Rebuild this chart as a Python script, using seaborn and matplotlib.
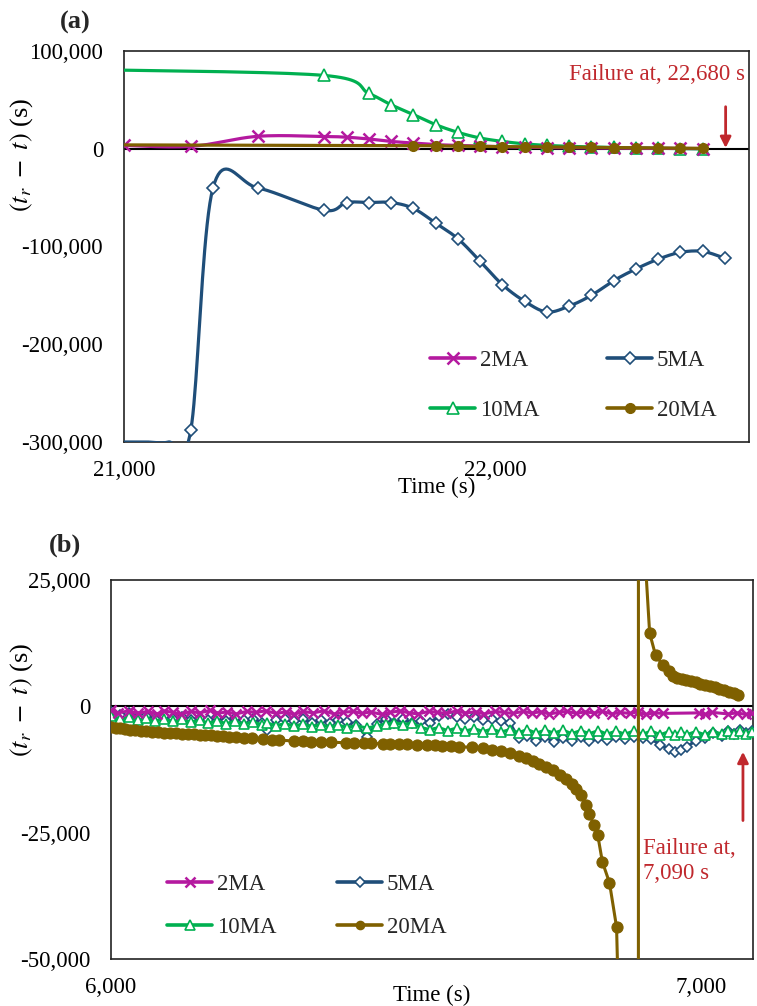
import numpy as np
import matplotlib
matplotlib.use("Agg")
import matplotlib.pyplot as plt
from matplotlib.lines import Line2D
from matplotlib.ticker import FuncFormatter
import seaborn as sns

# ---------------- panel (a): forecast near 22,680 s ----------------
a_t_2ma = [21000, 21180, 21360, 21540, 21600, 21660, 21720, 21780, 21840, 21900,
           21960, 22020, 22080, 22140, 22200, 22260, 22320, 22380, 22440, 22500, 22560]
a_v_2ma = [3400, 2400, 12700, 12500, 11800, 10000, 7500, 5800, 4200, 3400,
           2600, 2000, 1600, 1200, 1000, 800, 600, 500, 400, 300, 200]

a_t_5ma = [21000, 21060, 21120, 21180, 21240, 21360, 21540, 21600, 21660, 21720,
           21780, 21840, 21900, 21960, 22020, 22080, 22140, 22200, 22260, 22320,
           22380, 22440, 22500, 22560, 22620]
a_v_5ma = [-300000, -300000, -300000, -288000, -40000, -40000, -63000, -55000, -55000, -55000,
           -61000, -76000, -92000, -115000, -139000, -156000, -167000, -161000, -150000, -135000,
           -123000, -113000, -106000, -105000, -112000]

a_t_10ma = [20940, 21540, 21660, 21720, 21780, 21840, 21900, 21960, 22020, 22080,
            22140, 22200, 22260, 22320, 22380, 22440, 22500, 22560]
a_v_10ma = [80800, 75000, 56600, 45000, 35000, 24700, 16800, 11000, 7500, 5000,
            3400, 2500, 1800, 1300, 900, 500, 200, -200]

a_t_20ma = [20940, 21780, 21840, 21900, 21960, 22020, 22080, 22140, 22200, 22260,
            22320, 22380, 22440, 22500, 22560]
a_v_20ma = [4000, 3200, 2900, 2600, 2400, 2200, 2000, 1800, 1600, 1400,
            1200, 1000, 800, 600, 400]

# ---------------- panel (b): forecast near 7,090 s ----------------
b_t_2ma = [6000, 6012, 6030, 6045, 6062, 6078, 6090, 6105, 6118, 6135,
           6150, 6168, 6180, 6196, 6212, 6230, 6245, 6262, 6280, 6296,
           6310, 6325, 6342, 6360, 6378, 6392, 6410, 6425, 6440, 6458,
           6472, 6490, 6505, 6520, 6538, 6552, 6568, 6585, 6600, 6618,
           6632, 6650, 6665, 6680, 6698, 6712, 6728, 6742, 6758, 6772,
           6788, 6802, 6818, 6832, 6848, 6862, 6878, 6892, 6905, 6920,
           6934, 6995, 7005, 7018, 7045, 7060, 7075, 7086]
b_v_2ma = [-800, -1300, -900, -1400, -1000, -1500, -900, -1200, -1600, -1000,
           -1300, -800, -1400, -1100, -1500, -1000, -1200, -900, -1400, -1100,
           -1600, -1000, -1300, -900, -1500, -1200, -1000, -1400, -1100, -1600,
           -1200, -900, -1300, -1500, -1000, -1200, -1400, -900, -1300, -1100,
           -1500, -1000, -1200, -1400, -1000, -1300, -1100, -1500, -1200, -1000,
           -1400, -1100, -1300, -1000, -1500, -1200, -1400, -1100, -1600, -1300,
           -1400, -1300, -1600, -1200, -1500, -1300, -1600, -1400]

b_t = [6000, 6015, 6030, 6045, 6060, 6075, 6090, 6105, 6120, 6135,
       6150, 6165, 6180, 6195, 6210, 6225, 6240, 6255, 6264, 6280,
       6295, 6310, 6325, 6340, 6355, 6370, 6385, 6400, 6415, 6433,
       6450, 6465, 6480, 6495, 6510, 6525, 6540, 6555, 6570, 6585,
       6600, 6615, 6630, 6645, 6660, 6675, 6690, 6705, 6720, 6735,
       6750, 6765, 6780, 6795, 6810, 6825, 6840, 6855, 6870, 6885,
       6900, 6915, 6930, 6945, 6955, 6965, 6975, 6990, 7005, 7020,
       7035, 7045, 7055, 7065, 7075, 7086]
b_v_5ma = [-1200, -1800, -1400, -2200, -1900, -2500, -2000, -2600, -2200, -2800,
           -2300, -2700, -2200, -2900, -2400, -2800, -2500, -3200, -4600, -2800,
           -2500, -3000, -2600, -3200, -2700, -3300, -2800, -3100, -3600, -6000,
           -3400, -2600, -3200, -2500, -3300, -3000, -3200, -2000, -1600, -2100,
           -2500, -2200, -2800, -2600, -3000, -3200, -6300, -5900, -6800, -6100,
           -7000, -6200, -6800, -6000, -6900, -6200, -6700, -6100, -6500, -6000,
           -6300, -6500, -7600, -8500, -9000, -8600, -8000, -6800, -6200, -5200,
           -5800, -4800, -5500, -4700, -5300, -4900]
b_v_10ma = [-2000, -2600, -2200, -2800, -2300, -2900, -2500, -3000, -2600, -3100,
            -2800, -3300, -2900, -3400, -3000, -3500, -3100, -3600, -3300, -3800,
            -3400, -3900, -3500, -4000, -3600, -4100, -3700, -4200, -3800, -4300,
            -3900, -3500, -3200, -3600, -3300, -4200, -4600, -4200, -4800, -4300,
            -4900, -4400, -5000, -4500, -5100, -4600, -5200, -4600, -5300, -4700,
            -5300, -4700, -5400, -4800, -5400, -4800, -5500, -4900, -5500, -4900,
            -5500, -4900, -5600, -5000, -5600, -5000, -5600, -5000, -5600, -5000,
            -5500, -4900, -5500, -4900, -5400, -5000]

b_t_20ma = [6000, 6008, 6016, 6024, 6032, 6040, 6050, 6060, 6070, 6080,
            6090, 6100, 6110, 6120, 6130, 6140, 6150, 6160, 6170, 6180,
            6190, 6200, 6212, 6225, 6238, 6258, 6272, 6285, 6310, 6325,
            6338, 6355, 6372, 6398, 6412, 6428, 6440, 6460, 6472, 6488,
            6502, 6518, 6535, 6548, 6560, 6575, 6590, 6612, 6630, 6645,
            6660, 6675, 6690, 6702, 6714, 6725, 6736, 6748, 6760, 6770,
            6780, 6788, 6796, 6804, 6810, 6818, 6824, 6832, 6844, 6856,
            6866, 6892, 6894, 6903, 6912, 6922, 6935, 6944, 6951, 6958,
            6966, 6974, 6982, 6990, 6998, 7006, 7014, 7022, 7030, 7038,
            7046, 7054, 7062]
b_v_20ma = [-4000, -4200, -4300, -4500, -4600, -4700, -4800, -4900, -5000, -5100,
            -5200, -5300, -5350, -5400, -5500, -5550, -5600, -5700, -5750, -5850,
            -5900, -6000, -6100, -6200, -6300, -6500, -6600, -6700, -6850, -6950,
            -7000, -7050, -7100, -7200, -7250, -7300, -7350, -7400, -7450, -7500,
            -7550, -7600, -7700, -7750, -7800, -7900, -8000, -8100, -8300, -8600,
            -8900, -9300, -9800, -10300, -10900, -11500, -12000, -12600, -13500, -14400,
            -15300, -16300, -17600, -19500, -21400, -23500, -25400, -30800, -34900, -43700,
            -90000, -2000000, 2000000, 32000, 14500, 10100, 8100, 6900, 6100, 5700,
            5400, 5200, 5000, 4800, 4500, 4300, 4100, 3800, 3500, 3200,
            2900, 2600, 2300]

series_names = ["2MA", "5MA", "10MA", "20MA"]
failure_a = "Failure at, 22,680 s"
failure_b = "Failure at,\n7,090 s"

# ---------------- styling ----------------
sns.set_theme(style="white")
plt.rcParams["font.family"] = ["Liberation Serif", "DejaVu Serif"]
plt.rcParams["mathtext.fontset"] = "stix"
FS = 16.5
RED = "#C0282D"
STYLE = {
    "2MA": dict(color="#B4199F", marker="x", mfc="#B4199F", z=3.2),
    "5MA": dict(color="#1F4E79", marker="D", mfc="white", z=3.0),
    "10MA": dict(color="#00B050", marker="^", mfc="white", z=3.1),
    "20MA": dict(color="#7F6000", marker="o", mfc="#7F6000", z=3.4),
}

fig = plt.figure(figsize=(7.57, 10.06), dpi=100)
ax_a = fig.add_axes([124 / 757, 1 - 442 / 1006, 625 / 757, 391 / 1006])
ax_b = fig.add_axes([111 / 757, 1 - 959 / 1006, 642 / 757, 379 / 1006])

ax_a.set_xlim(21000, 22685)
ax_a.set_ylim(-300000, 100000)
ax_b.set_xlim(6000, 7087)
ax_b.set_ylim(-50000, 25000)


def smooth_curve(ax, xs, ys, steps=20):
    """Cardinal (Catmull-Rom) spline through the points, built in display space."""
    pts = ax.transData.transform(np.column_stack([xs, ys]).astype(float))
    p = np.vstack([pts[0], pts, pts[-1]])
    s = np.linspace(0, 1, steps + 1)[1:, None]
    out = [pts[:1]]
    for i in range(1, len(p) - 2):
        p0, p1, p2, p3 = p[i - 1], p[i], p[i + 1], p[i + 2]
        b1 = p1 + (p2 - p0) / 6
        b2 = p2 - (p3 - p1) / 6
        seg = (1 - s) ** 3 * p1 + 3 * (1 - s) ** 2 * s * b1 + 3 * (1 - s) * s ** 2 * b2 + s ** 3 * p2
        out.append(seg)
    return ax.transData.inverted().transform(np.vstack(out))


def draw_smooth(ax, xs, ys, name, lw, ms, mew):
    st = STYLE[name]
    curve = smooth_curve(ax, xs, ys)
    sns.lineplot(x=curve[:, 0], y=curve[:, 1], sort=False, estimator=None, ax=ax,
                 color=st["color"], linewidth=lw, zorder=st["z"])
    xs = np.asarray(xs, float)
    ys = np.asarray(ys, float)
    x0, x1 = ax.get_xlim()
    y0, y1 = ax.get_ylim()
    keep = (xs >= x0) & (xs <= x1) & (ys > y0) & (ys < y1)
    sns.lineplot(x=xs[keep], y=ys[keep], sort=False, estimator=None, ax=ax,
                 linestyle="", marker=st["marker"], markersize=ms,
                 markerfacecolor=st["mfc"], markeredgecolor=st["color"],
                 markeredgewidth=mew, color=st["color"], zorder=st["z"] + 0.05)


def draw_plain(ax, xs, ys, name, lw, ms, mew):
    st = STYLE[name]
    sns.lineplot(x=xs, y=ys, sort=False, estimator=None, ax=ax,
                 color=st["color"], linewidth=lw, marker=st["marker"], markersize=ms,
                 markerfacecolor=st["mfc"], markeredgecolor=st["color"],
                 markeredgewidth=mew, zorder=st["z"])


# panel (a)
ax_a.axhline(0, color="black", lw=1.5, zorder=2)
draw_smooth(ax_a, a_t_10ma, a_v_10ma, "10MA", 2.3, 8, 1.2)
draw_smooth(ax_a, a_t_5ma, a_v_5ma, "5MA", 2.3, 6, 1.2)
draw_smooth(ax_a, a_t_2ma, a_v_2ma, "2MA", 2.3, 8, 1.8)
draw_smooth(ax_a, a_t_20ma, a_v_20ma, "20MA", 2.3, 7, 1.0)

# panel (b)
ax_b.axhline(0, color="black", lw=1.5, zorder=2)
draw_plain(ax_b, b_t, b_v_5ma, "5MA", 2.2, 5.5, 1.2)
draw_plain(ax_b, b_t, b_v_10ma, "10MA", 2.2, 7, 1.2)
draw_plain(ax_b, b_t_2ma, b_v_2ma, "2MA", 2.2, 6.5, 1.8)
draw_plain(ax_b, b_t_20ma, b_v_20ma, "20MA", 2.2, 8, 0.8)

thousands = FuncFormatter(lambda v, p: f"{v:,.0f}")
for ax in (ax_a, ax_b):
    ax.xaxis.set_major_formatter(thousands)
    ax.yaxis.set_major_formatter(thousands)
    ax.tick_params(axis="both", direction="in", length=6, width=1.2, color="black",
                   labelsize=FS, labelcolor="black")
    ax.tick_params(axis="y", pad=15)
    ax.tick_params(axis="x", pad=13)
    for sp in ax.spines.values():
        sp.set_color("#222222")
        sp.set_linewidth(1.2)
        sp.set_visible(True)
    ax.set_xlabel("Time (s)", fontsize=FS, color="black")
    ax.set_ylabel(r"$(t_r\ -\ t)$ (s)", fontsize=19, color="black")
    ax.xaxis.label.set_va("center")
    ax.grid(False)

ax_a.set_xticks([21000, 22000])
ax_a.set_yticks([100000, 0, -100000, -200000, -300000])
ax_b.set_xticks([6000, 7000])
ax_b.set_yticks([25000, 0, -25000, -50000])
ax_a.set_xlim(21000, 22685)
ax_a.set_ylim(-300000, 100000)
ax_b.set_xlim(6000, 7087)
ax_b.set_ylim(-50000, 25000)

ax_a.xaxis.set_label_coords(0.5, -0.115)
ax_b.xaxis.set_label_coords(0.5, -0.095)
ax_a.yaxis.set_label_coords(-0.142, 0.734)
ax_b.yaxis.set_label_coords(-0.118, 0.683)

# failure annotations
ax_a.text(0.994, 0.939, failure_a, transform=ax_a.transAxes, ha="right", va="center",
          color=RED, fontsize=FS)
ax_a.annotate("", xy=(22622, 800), xytext=(22622, 43000),
              arrowprops=dict(arrowstyle="-|>", color=RED, lw=2, mutation_scale=16,
                              shrinkA=0, shrinkB=0))
ax_b.text(6900, -30600, failure_b, ha="left", va="center", color=RED, fontsize=FS,
          linespacing=1.3)
ax_b.annotate("", xy=(7070, -9000), xytext=(7070, -22600),
              arrowprops=dict(arrowstyle="-|>", color=RED, lw=2, mutation_scale=16,
                              shrinkA=0, shrinkB=0))

# panel tags
fig.text(75 / 757, 1 - 22 / 1006, "(a)", ha="center", va="center", fontsize=19,
         fontweight="bold")
fig.text(65 / 757, 1 - 545 / 1006, "(b)", ha="center", va="center", fontsize=19,
         fontweight="bold")


def legend_handles(ms_scale):
    hs = {}
    for name, ms, mew in (("2MA", 8, 1.8), ("5MA", 6, 1.2), ("10MA", 8, 1.2), ("20MA", 7, 1.0)):
        st = STYLE[name]
        hs[name] = Line2D([], [], color=st["color"], lw=2.6, marker=st["marker"],
                          markersize=ms * ms_scale, markerfacecolor=st["mfc"],
                          markeredgecolor=st["color"], markeredgewidth=mew)
    order = ["2MA", "10MA", "5MA", "20MA"]
    return [hs[n] for n in order], order


h, l = legend_handles(1.0)
ax_a.legend(h, l, ncol=2, loc="upper left", bbox_to_anchor=(0.49, 0.235), frameon=False,
            fontsize=FS, handlelength=1.97, handletextpad=0.2, columnspacing=2.96,
            labelspacing=1.27, borderpad=0, borderaxespad=0)
h, l = legend_handles(0.85)
ax_b.legend(h, l, ncol=2, loc="upper left", bbox_to_anchor=(0.0872, 0.225), frameon=False,
            fontsize=FS, handlelength=1.97, handletextpad=0.2, columnspacing=2.66,
            labelspacing=0.96, borderpad=0, borderaxespad=0)

fig.savefig("out.png", dpi=100, facecolor="white")
